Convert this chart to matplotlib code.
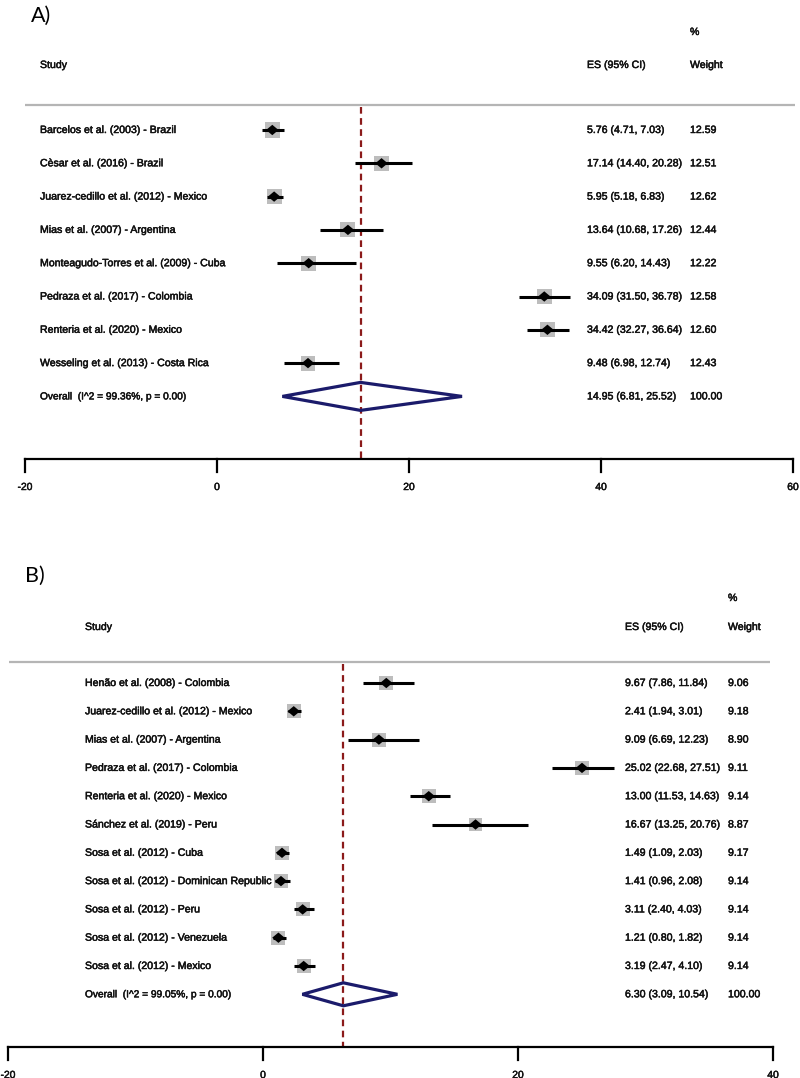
import matplotlib
matplotlib.use("Agg")
import matplotlib.pyplot as plt
from matplotlib.patches import Polygon, Rectangle
import matplotlib.patheffects as pe
import numpy as np

plt.rcParams['font.family'] = ['Liberation Sans', 'DejaVu Sans']

# ---------------- Data: panel A ----------------
studies_a = [
    "Barcelos et al. (2003) - Brazil",
    "Cèsar et al. (2016) - Brazil",
    "Juarez-cedillo et al. (2012) - Mexico",
    "Mias et al. (2007) - Argentina",
    "Monteagudo-Torres et al. (2009) - Cuba",
    "Pedraza et al. (2017) - Colombia",
    "Renteria et al. (2020) - Mexico",
    "Wesseling et al. (2013) - Costa Rica",
]
es_a = [5.76, 17.14, 5.95, 13.64, 9.55, 34.09, 34.42, 9.48]
lo_a = [4.71, 14.40, 5.18, 10.68, 6.20, 31.50, 32.27, 6.98]
hi_a = [7.03, 20.28, 6.83, 17.26, 14.43, 36.78, 36.64, 12.74]
w_a = [12.59, 12.51, 12.62, 12.44, 12.22, 12.58, 12.60, 12.43]
overall_a = (14.95, 6.81, 25.52)
overall_label_a = "Overall  (I^2 = 99.36%, p = 0.00)"
ticks_a = [-20, 0, 20, 40, 60]

# ---------------- Data: panel B ----------------
studies_b = [
    "Henão et al. (2008) - Colombia",
    "Juarez-cedillo et al. (2012) - Mexico",
    "Mias et al. (2007) - Argentina",
    "Pedraza et al. (2017) - Colombia",
    "Renteria et al. (2020) - Mexico",
    "Sánchez et al. (2019) - Peru",
    "Sosa et al. (2012) - Cuba",
    "Sosa et al. (2012) - Dominican Republic",
    "Sosa et al. (2012) - Peru",
    "Sosa et al. (2012) - Venezuela",
    "Sosa et al. (2012) - Mexico",
]
es_b = [9.67, 2.41, 9.09, 25.02, 13.00, 16.67, 1.49, 1.41, 3.11, 1.21, 3.19]
lo_b = [7.86, 1.94, 6.69, 22.68, 11.53, 13.25, 1.09, 0.96, 2.40, 0.80, 2.47]
hi_b = [11.84, 3.01, 12.23, 27.51, 14.63, 20.76, 2.03, 2.08, 4.03, 1.82, 4.10]
w_b = [9.06, 9.18, 8.90, 9.11, 9.14, 8.87, 9.17, 9.14, 9.14, 9.14, 9.14]
overall_b = (6.30, 3.09, 10.54)
overall_label_b = "Overall  (I^2 = 99.05%, p = 0.00)"
ticks_b = [-20, 0, 20, 40]

W, H = 800, 1078
fig = plt.figure(figsize=(W / 100, H / 100), dpi=100)
fig.patch.set_facecolor('white')

FS = 7.6
TXT = '#111111'
RED = '#8b1a1a'
NAVY = '#1b1b6b'
GREY = '#bdbdbd'
BOLDEN = [pe.withStroke(linewidth=0.35, foreground=TXT)]


def txt(ax, x, y, s, fs=FS, **kw):
    ax.text(x, y, s, fontsize=fs, color=TXT, va='center', path_effects=BOLDEN, **kw)


def panel(top, bot, zero_px, ppu, cfg):
    ax = fig.add_axes([0, 1 - bot / H, 1, (bot - top) / H])
    ax.set_xlim(-zero_px / ppu, (W - zero_px) / ppu)
    ax.set_ylim(bot, top)
    ax.axis('off')
    px = lambda p: (p - zero_px) / ppu  # pixel -> data x

    studies, es, lo, hi, w, overall, olabel, ticks = cfg['data']
    y0, step = cfg['y0'], cfg['step']
    ys = [y0 + i * step for i in range(len(studies))]
    oy = y0 + len(studies) * step

    # header
    txt(ax, px(cfg['lab_x']), cfg['hdr_y'], "Study", ha='left')
    txt(ax, px(cfg['es_x']), cfg['hdr_y'], "ES (95% CI)", ha='left')
    txt(ax, px(cfg['w_x']), cfg['hdr_y'], "Weight", ha='left')
    txt(ax, px(cfg['w_x']), cfg['pct_y'], "%", ha='left')
    ax.plot([px(cfg['hl'][0]), px(cfg['hl'][1])], [cfg['hl_y']] * 2, color='#b5b5b5', lw=1.6,
            solid_capstyle='butt')
    ax.text(px(cfg['panel_x']), cfg['panel_y'], cfg['panel'], fontsize=15.5, color='black',
            family=['Lato', 'DejaVu Sans'], va='center', ha='left')

    # reference dashed line
    ax.plot([overall[0]] * 2, [cfg['hl_y'] + 2, cfg['axis_y']], color=RED, lw=1.6,
            ls=(0, (3.0, 2.0)), zorder=1)

    # study rows
    box0 = cfg['box']
    for s, e, l, h, wt, y in zip(studies, es, lo, hi, w, ys):
        txt(ax, px(cfg['lab_x']), y, s, ha='left')
        txt(ax, px(cfg['es_x']), y, f"{e:.2f} ({l:.2f}, {h:.2f})", ha='left')
        txt(ax, px(cfg['w_x']), y, f"{wt:.2f}", ha='left')
        side = box0 * np.sqrt(wt / cfg['wref'])
        ax.add_patch(Rectangle((e - side / 2 / ppu, y - side / 2), side / ppu, side,
                               facecolor=GREY, edgecolor='none', zorder=2))
        ax.plot([l, h], [y, y], color='black', lw=2.2, solid_capstyle='butt', zorder=3)
        dw, dh = 6.2 / ppu, 5.2
        ax.add_patch(Polygon([(e - dw, y), (e, y - dh), (e + dw, y), (e, y + dh)],
                             closed=True, facecolor='black', edgecolor='none', zorder=4))

    # overall
    txt(ax, px(cfg['lab_x']), oy, olabel, fs=FS - 0.3, ha='left')
    txt(ax, px(cfg['es_x']), oy, f"{overall[0]:.2f} ({overall[1]:.2f}, {overall[2]:.2f})", ha='left')
    txt(ax, px(cfg['w_x']), oy, "100.00", ha='left')
    dh = cfg['dh']
    ax.add_patch(Polygon([(overall[1], oy), (overall[0], oy - dh), (overall[2], oy),
                          (overall[0], oy + dh)], closed=True, facecolor='none',
                         edgecolor=NAVY, lw=2.3, joinstyle='miter', zorder=5))

    # x axis
    ay = cfg['axis_y']
    ax.plot([ticks[0], ticks[-1]], [ay, ay], color='black', lw=1.6, solid_capstyle='projecting')
    for t in ticks:
        ax.plot([t, t], [ay, ay + 13], color='black', lw=1.6)
        txt(ax, t, ay + 28, f"{t}", fs=FS - 0.2, ha='center')
    return ax


cfg_a = dict(data=(studies_a, es_a, lo_a, hi_a, w_a, overall_a, overall_label_a, ticks_a),
             y0=130, step=33.3, lab_x=40, es_x=587, w_x=690, hdr_y=65, pct_y=32,
             hl=(25, 795), hl_y=105, panel='A)', panel_x=31, panel_y=16,
             axis_y=459, box=15, wref=12.5, dh=14)
cfg_b = dict(data=(studies_b, es_b, lo_b, hi_b, w_b, overall_b, overall_label_b, ticks_b),
             y0=683, step=28.3, lab_x=85, es_x=625, w_x=728, hdr_y=627, pct_y=598,
             hl=(9, 770), hl_y=662, panel='B)', panel_x=25, panel_y=576,
             axis_y=1047, box=14, wref=9.0, dh=11.5)

panel(0, 515, 217, 9.6, cfg_a)
panel(515, 1078, 263, 12.75, cfg_b)

fig.savefig("out.png", dpi=100, facecolor='white')
